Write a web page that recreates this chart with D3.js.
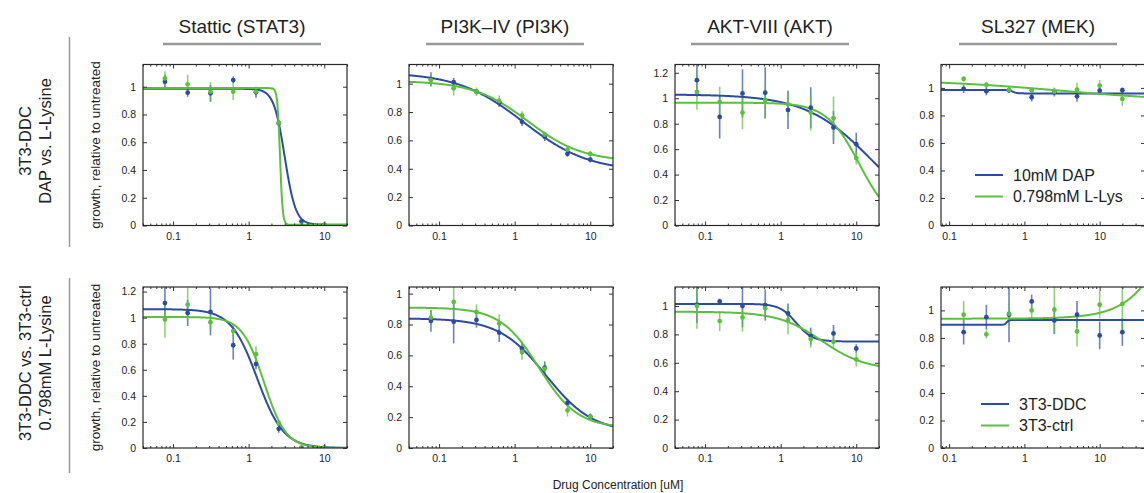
<!DOCTYPE html>
<html>
<head>
<meta charset="utf-8">
<script src="https://cdn.jsdelivr.net/npm/d3@7"></script>
<style>
  html, body { margin: 0; padding: 0; background: #fff; }
  svg { display: block; font-family: Arial, "Liberation Sans", Helvetica, sans-serif; }
</style>
</head>
<body>
<svg id="chart" width="1144" height="493"></svg>
<script>
// ---- Labels ----
const drugTitles = ["Stattic (STAT3)", "PI3K\u2013IV (PI3K)", "AKT-VIII (AKT)", "SL327 (MEK)"];
const rowLabels = [["3T3-DDC", "DAP vs. L-Lysine"], ["3T3-DDC vs. 3T3-ctrl", "0.798mM L-Lysine"]];
const legendRow1 = ["10mM DAP", "0.798mM L-Lys"];
const legendRow2 = ["3T3-DDC", "3T3-ctrl"];
const yAxisLabel = "growth, relative to untreated";
const xAxisLabel = "Drug Concentration [uM]";

// ---- Doses (uM) and axis ticks ----
const dosesA = [0.078, 0.156, 0.3125, 0.625, 1.25, 2.5, 5, 10];
const dosesMek = [0.156, 0.3125, 0.625, 1.25, 2.5, 5, 10, 20];
const xDomainA = [0.04, 20];
const xDomainMek = [0.078, 40];
const xTickValues = [0.1, 1, 10];
const yTicksTo1 = [0, 0.2, 0.4, 0.6, 0.8, 1];
const yTicksTo12 = [0, 0.2, 0.4, 0.6, 0.8, 1, 1.2];
const yMaxByPanel = [1.16, 1.135, 1.265, 1.17, 1.235, 1.043, 1.134, 1.17];

// ---- Row 1: 10mM DAP (blue) vs 0.798mM L-Lys (green) ----
const stat3DapY   = [1.036, 0.957, 0.952, 1.048, 0.960, 0.737, 0.030, 0.005];
const stat3DapErr = [0.05, 0.03, 0.06, 0.025, 0.04, 0.02, 0.01, 0.005];
const stat3LysY   = [1.060, 1.017, 0.964, 0.964, 0.964, 0.740, 0.005, 0.005];
const stat3LysErr = [0.05, 0.07, 0.07, 0.06, 0.03, 0.02, 0.005, 0.005];
const stat3DapFit = [0.985, 0.005, 3.0, 6];     // top, bottom, EC50, Hill
const stat3LysFit = [0.99, 0.005, 2.6, 25];

const pi3kDapY   = [1.030, 1.010, 0.943, 0.866, 0.731, 0.625, 0.505, 0.465];
const pi3kDapErr = [0.05, 0.03, 0.02, 0.03, 0.03, 0.03, 0.02, 0.02];
const pi3kLysY   = [1.025, 0.967, 0.943, 0.877, 0.776, 0.641, 0.535, 0.505];
const pi3kLysErr = [0.04, 0.05, 0.03, 0.04, 0.03, 0.02, 0.02, 0.02];
const pi3kDapFit = [1.08, 0.38, 1.3, 1.0];
const pi3kLysFit = [1.02, 0.45, 1.5, 1.2];

const aktDapY   = [1.142, 0.853, 1.038, 1.044, 0.908, 0.926, 0.770, 0.639];
const aktDapErr = [0.13, 0.17, 0.19, 0.20, 0.15, 0.16, 0.13, 0.09];
const aktLysY   = [1.049, 0.970, 0.887, 0.986, 0.952, 0.887, 0.843, 0.530];
const aktLysErr = [0.14, 0.12, 0.13, 0.15, 0.10, 0.14, 0.17, 0.05];
const aktDapFit = [1.03, 0, 16, 1.0];
const aktLysFit = [0.965, 0, 11, 2.0];

const mekDapY   = [0.993, 0.976, 0.983, 0.932, 0.968, 0.939, 0.980, 0.983];
const mekDapErr = [0.03, 0.03, 0.02, 0.03, 0.03, 0.04, 0.03, 0.02];
const mekLysY   = [1.065, 1.022, 0.985, 0.983, 0.973, 0.988, 1.017, 0.920];
const mekLysErr = [0.02, 0.02, 0.02, 0.02, 0.03, 0.05, 0.04, 0.05];
const mekDapFit = [0.985, 0.96, 0.7, 15];
const mekLysFit = [1.06, 0.90, 3, 0.5];

// ---- Row 2: 3T3-DDC (blue) vs 3T3-ctrl (green) ----
const stat3DdcY    = [1.112, 1.036, 1.044, 0.788, 0.644, 0.147, 0.0, 0.0];
const stat3DdcErr  = [0.14, 0.10, 0.18, 0.11, 0.04, 0.03, 0.005, 0.005];
const stat3CtrlY   = [0.986, 1.100, 0.965, 0.897, 0.720, 0.190, 0.003, 0.003];
const stat3CtrlErr = [0.14, 0.13, 0.06, 0.05, 0.06, 0.02, 0.003, 0.003];
const stat3DdcFit  = [1.065, 0, 1.3, 2.5];
const stat3CtrlFit = [1.005, 0, 1.6, 3.0];

const pi3kDdcY    = [0.823, 0.818, 0.830, 0.747, 0.644, 0.521, 0.292, 0.203];
const pi3kDdcErr  = [0.07, 0.14, 0.05, 0.06, 0.04, 0.04, 0.02, 0.02];
const pi3kCtrlY   = [0.845, 0.946, 0.881, 0.806, 0.622, 0.514, 0.244, 0.203];
const pi3kCtrlErr = [0.05, 0.10, 0.05, 0.06, 0.05, 0.03, 0.04, 0.02];
const pi3kDdcFit  = [0.84, 0.10, 2.6, 1.4];
const pi3kCtrlFit = [0.91, 0.13, 2.1, 1.7];

const aktDdcY    = [1.010, 1.032, 1.000, 1.007, 0.948, 0.788, 0.807, 0.701];
const aktDdcErr  = [0.13, 0.02, 0.15, 0.11, 0.07, 0.06, 0.06, 0.03];
const aktCtrlY   = [1.000, 0.894, 0.920, 0.984, 0.901, 0.767, 0.748, 0.624];
const aktCtrlErr = [0.16, 0.07, 0.10, 0.04, 0.10, 0.06, 0.05, 0.05];
const aktDdcFit  = [1.015, 0.75, 1.6, 4];
const aktCtrlFit = [0.96, 0.55, 3.5, 1.5];

const mekDdcY    = [0.842, 0.951, 0.969, 1.065, 0.927, 0.969, 0.818, 0.842];
const mekDdcErr  = [0.09, 0.09, 0.20, 0.05, 0.10, 0.10, 0.10, 0.10];
const mekCtrlY   = [0.969, 0.826, 0.976, 1.000, 1.005, 0.847, 1.041, 1.048];
const mekCtrlErr = [0.10, 0.03, 0.08, 0.07, 0.17, 0.11, 0.10, 0.20];
const mekDdcFit  = [0.895, 0.93, 0.58, 30];
const mekCtrlFit = [0.94, 3.0, 158, 1.4];

// ---- Appearance ----
const BLUE = "#2c4ba3";
const GREEN = "#5cbf3d";
const colLeft = [143, 409, 675, 941];
const rowTop = [64.5, 287];
const PW = 204, PH = 161;

// Panel table assembled from the arrays above
const panels = [
  { r: 0, c: 0, doses: dosesA, dom: xDomainA, s: [[stat3DapY, stat3DapErr, stat3DapFit], [stat3LysY, stat3LysErr, stat3LysFit]] },
  { r: 0, c: 1, doses: dosesA, dom: xDomainA, s: [[pi3kDapY, pi3kDapErr, pi3kDapFit], [pi3kLysY, pi3kLysErr, pi3kLysFit]] },
  { r: 0, c: 2, doses: dosesA, dom: xDomainA, s: [[aktDapY, aktDapErr, aktDapFit], [aktLysY, aktLysErr, aktLysFit]] },
  { r: 0, c: 3, doses: dosesMek, dom: xDomainMek, s: [[mekDapY, mekDapErr, mekDapFit], [mekLysY, mekLysErr, mekLysFit]], legend: legendRow1 },
  { r: 1, c: 0, doses: dosesA, dom: xDomainA, s: [[stat3DdcY, stat3DdcErr, stat3DdcFit], [stat3CtrlY, stat3CtrlErr, stat3CtrlFit]] },
  { r: 1, c: 1, doses: dosesA, dom: xDomainA, s: [[pi3kDdcY, pi3kDdcErr, pi3kDdcFit], [pi3kCtrlY, pi3kCtrlErr, pi3kCtrlFit]] },
  { r: 1, c: 2, doses: dosesA, dom: xDomainA, s: [[aktDdcY, aktDdcErr, aktDdcFit], [aktCtrlY, aktCtrlErr, aktCtrlFit]] },
  { r: 1, c: 3, doses: dosesMek, dom: xDomainMek, s: [[mekDdcY, mekDdcErr, mekDdcFit], [mekCtrlY, mekCtrlErr, mekCtrlFit]], legend: legendRow2 }
];

// four-parameter logistic dose-response
function hill(p, x) {
  const [top, bottom, ec50, h] = p;
  return bottom + (top - bottom) / (1 + Math.pow(x / ec50, h));
}

const svg = d3.select("#chart");
const colors = [BLUE, GREEN];

panels.forEach((p, i) => {
  const ymax = yMaxByPanel[i];
  const x = d3.scaleLog().domain(p.dom).range([0, PW]);
  const y = d3.scaleLinear().domain([0, ymax]).range([PH, 0]);
  const g = svg.append("g").attr("transform", `translate(${colLeft[p.c]},${rowTop[p.r]})`);

  const clipId = "clip" + i;
  g.append("clipPath").attr("id", clipId)
    .append("rect").attr("width", PW).attr("height", PH);
  const plot = g.append("g").attr("clip-path", `url(#${clipId})`);

  // error bars
  p.s.forEach(([ys, es], k) => {
    plot.append("g").selectAll("line").data(p.doses).join("line")
      .attr("x1", d => x(d)).attr("x2", d => x(d))
      .attr("y1", (d, j) => y(ys[j] - es[j]))
      .attr("y2", (d, j) => y(ys[j] + es[j]))
      .attr("stroke", colors[k]).attr("stroke-opacity", 0.7).attr("stroke-width", 1.6);
  });

  // fitted curves
  const lx = Math.log10(p.dom[0]), rx = Math.log10(p.dom[1]);
  const samples = d3.range(0, 401).map(t => Math.pow(10, lx + (rx - lx) * t / 400));
  p.s.forEach(([ys, es, fit], k) => {
    plot.append("path")
      .datum(samples)
      .attr("fill", "none").attr("stroke", colors[k]).attr("stroke-width", 2)
      .attr("d", d3.line().x(d => x(d)).y(d => y(hill(fit, d))));
  });

  // data points
  p.s.forEach(([ys], k) => {
    plot.append("g").selectAll("circle").data(p.doses).join("circle")
      .attr("cx", d => x(d)).attr("cy", (d, j) => y(ys[j]))
      .attr("r", 2.4).attr("fill", colors[k]);
  });

  // axes: ticks point inward on all four sides
  const yTicks = ymax >= 1.2 ? yTicksTo12 : yTicksTo1;
  const minorTicks = x.ticks().filter(v => !xTickValues.includes(v));
  const styleAxis = sel => {
    sel.select(".domain").remove();
    sel.selectAll("line").attr("stroke", "#333");
    sel.selectAll("text").attr("fill", "#222").style("font-size", "10.5px")
      .style("font-family", "Arial, 'Liberation Sans', Helvetica, sans-serif");
  };
  g.append("g").attr("transform", `translate(0,${PH})`)
    .call(d3.axisBottom(x).tickValues(xTickValues).tickFormat(d3.format("")).tickSize(-4).tickPadding(7))
    .call(styleAxis);
  g.append("g").attr("transform", `translate(0,${PH})`)
    .call(d3.axisBottom(x).tickValues(minorTicks).tickFormat("").tickSize(-2))
    .call(styleAxis);
  g.append("g")
    .call(d3.axisTop(x).tickValues(xTickValues).tickFormat("").tickSize(-4))
    .call(styleAxis);
  g.append("g")
    .call(d3.axisTop(x).tickValues(minorTicks).tickFormat("").tickSize(-2))
    .call(styleAxis);
  g.append("g")
    .call(d3.axisLeft(y).tickValues(yTicks).tickFormat(d3.format("")).tickSize(-4).tickPadding(7))
    .call(styleAxis);
  g.append("g").attr("transform", `translate(${PW},0)`)
    .call(d3.axisRight(y).tickValues(yTicks).tickFormat("").tickSize(-4))
    .call(styleAxis);

  g.append("rect").attr("width", PW).attr("height", PH)
    .attr("fill", "none").attr("stroke", "#2a2a2a").attr("stroke-width", 1.2);

  // legend
  if (p.legend) {
    const lg = g.append("g").attr("transform", p.r === 0 ? "translate(34,110.5)" : "translate(40,117)");
    p.legend.forEach((name, k) => {
      lg.append("line").attr("x1", 0).attr("x2", 28).attr("y1", k * 21.5).attr("y2", k * 21.5)
        .attr("stroke", colors[k]).attr("stroke-width", 2);
      lg.append("text").attr("x", 38).attr("y", k * 21.5).attr("dy", "0.36em")
        .style("font-size", "16px").attr("fill", "#222").text(name);
    });
  }

  // y-axis title on the first column
  if (p.c === 0) {
    g.append("text")
      .attr("transform", `translate(${100 - colLeft[0]},${PH / 2}) rotate(-90)`)
      .attr("text-anchor", "middle").style("font-size", "13.5px").attr("fill", "#222")
      .text(yAxisLabel);
  }
});

// column titles with grey underline
const titleCx = [242, 505, 770, 1038];
drugTitles.forEach((t, c) => {
  svg.append("text").attr("x", titleCx[c]).attr("y", 33).attr("text-anchor", "middle")
    .style("font-size", "19px").attr("fill", "#222").text(t);
  svg.append("line").attr("x1", titleCx[c] - 79).attr("x2", titleCx[c] + 79)
    .attr("y1", 44).attr("y2", 44).attr("stroke", "#999").attr("stroke-width", 2.5);
});

// row titles with grey separator
const rowCy = [141, 363];
const sepSpan = [[37, 247], [278, 473]];
rowLabels.forEach((lines, r) => {
  lines.forEach((t, k) => {
    svg.append("text")
      .attr("transform", `translate(${k === 0 ? 31 : 51},${rowCy[r]}) rotate(-90)`)
      .attr("text-anchor", "middle").style("font-size", "16.5px").attr("fill", "#222").text(t);
  });
  svg.append("line").attr("x1", 69.5).attr("x2", 69.5)
    .attr("y1", sepSpan[r][0]).attr("y2", sepSpan[r][1])
    .attr("stroke", "#999").attr("stroke-width", 1.5);
});

// shared x-axis title
svg.append("text").attr("x", 618).attr("y", 489).attr("text-anchor", "middle")
  .style("font-size", "12px").attr("fill", "#222").text(xAxisLabel);
</script>
</body>
</html>
